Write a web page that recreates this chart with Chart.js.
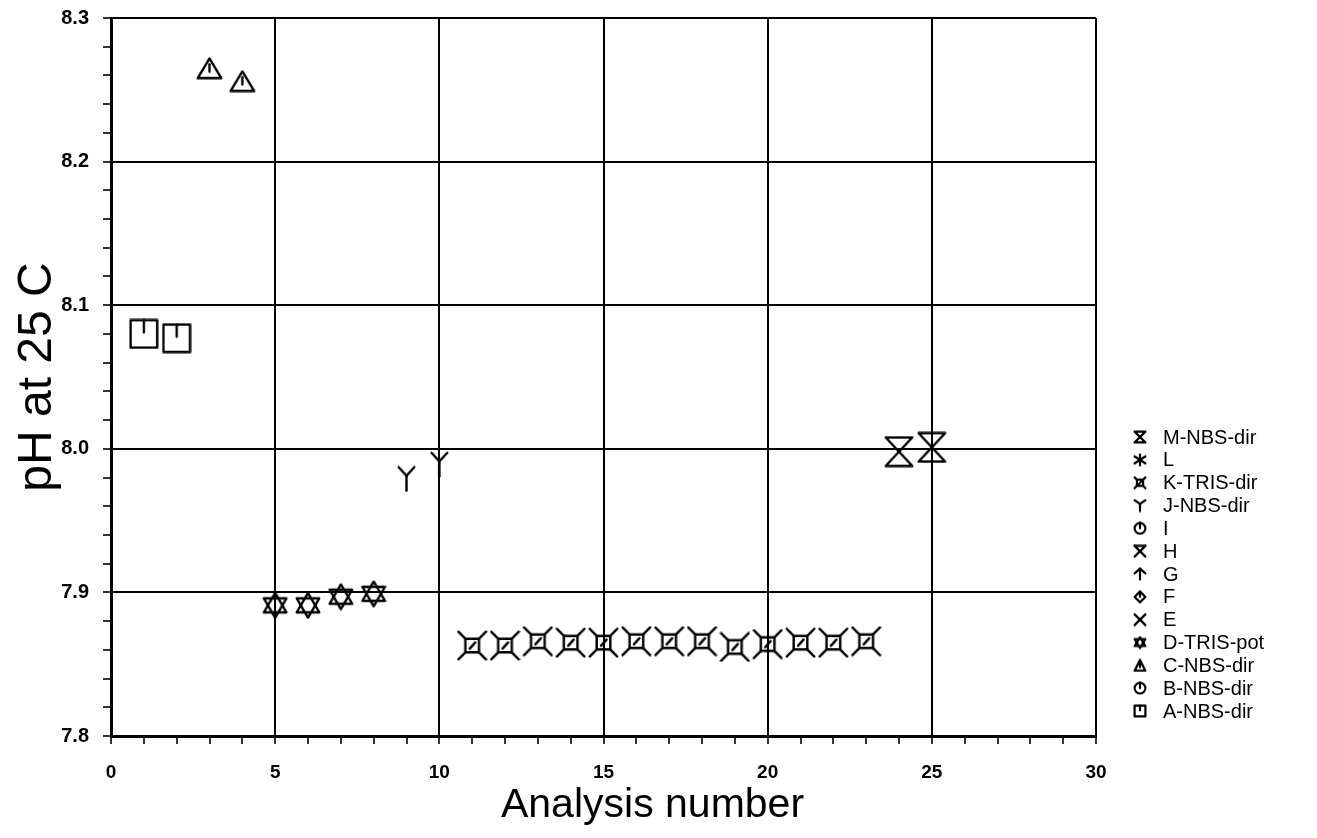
<!DOCTYPE html>
<html><head><meta charset="utf-8">
<script src="https://cdn.jsdelivr.net/npm/chart.js@4.4.1/dist/chart.umd.min.js"></script>
<style>html,body{margin:0;padding:0;background:#fff;}#wrap{width:1317px;height:838px;position:relative;}</style>
</head><body><div id="wrap"><canvas id="c" width="1317" height="838"></canvas></div>
<script>
// ---- data ----
const seriesLabels = ['A-NBS-dir','B-NBS-dir','C-NBS-dir','D-TRIS-pot','E','F','G','H','I','J-NBS-dir','K-TRIS-dir','L','M-NBS-dir'];
const analysisA = [1, 2];
const phA = [8.080, 8.077];
const analysisB = [];
const phB = [];
const analysisC = [3, 4];
const phC = [8.265, 8.256];
const analysisD = [5, 6, 7, 8];
const phD = [7.891, 7.891, 7.897, 7.899];
const analysisE = [], phE = [];
const analysisF = [], phF = [];
const analysisG = [], phG = [];
const analysisH = [], phH = [];
const analysisI = [], phI = [];
const analysisJ = [9, 10];
const phJ = [7.979, 7.989];
const analysisK = [11, 12, 13, 14, 15, 16, 17, 18, 19, 20, 21, 22, 23];
const phK = [7.863, 7.863, 7.866, 7.865, 7.865, 7.866, 7.866, 7.866, 7.862, 7.864, 7.865, 7.865, 7.866];
const analysisL = [], phL = [];
const analysisM = [24, 25];
const phM = [7.998, 8.001];
const xTickLabels = ['0','5','10','15','20','25','30'];
const yTickLabels = ['7.8','7.9','8.0','8.1','8.2','8.3'];
const xTitle = 'Analysis number';
const yTitle = 'pH at 25 C';

// ---- marker glyphs ----
function mk(w, h, lw, draw){
  const c = document.createElement('canvas'); c.width = w; c.height = h;
  const g = c.getContext('2d'); g.strokeStyle = '#000'; g.fillStyle = '#000';
  g.lineWidth = lw; g.lineCap = 'round'; g.lineJoin = 'round';
  const p = lw/2 + 0.5;
  draw(g, w, h, p); return c;
}
function ln(g, pts){ g.beginPath(); g.moveTo(pts[0][0], pts[0][1]); for (let i=1;i<pts.length;i++) g.lineTo(pts[i][0], pts[i][1]); g.stroke(); }
function poly(g, pts){ g.beginPath(); g.moveTo(pts[0][0], pts[0][1]); for (let i=1;i<pts.length;i++) g.lineTo(pts[i][0], pts[i][1]); g.closePath(); g.stroke(); }
const shapes = {
  squareTick:(g,w,h,p)=>{ g.strokeRect(p,p,w-2*p,h-2*p); ln(g,[[w/2,p],[w/2,h*0.45]]); },
  circleTick:(g,w,h,p)=>{ g.beginPath(); g.arc(w/2,h/2,Math.min(w,h)/2-p,0,Math.PI*2); g.stroke(); ln(g,[[w/2,p],[w/2,h/2]]); },
  triTick:(g,w,h,p)=>{ poly(g,[[w/2,p],[w-p,h-p],[p,h-p]]); ln(g,[[w/2,h*0.32],[w/2,h*0.64]]); },
  star:(g,w,h,p)=>{ poly(g,[[w/2,p],[w-p,h*0.75],[p,h*0.75]]); poly(g,[[w/2,h-p],[w-p,h*0.25],[p,h*0.25]]); },
  cross:(g,w,h,p)=>{ ln(g,[[p,p],[w-p,h-p]]); ln(g,[[w-p,p],[p,h-p]]); },
  diamondTick:(g,w,h,p)=>{ poly(g,[[w/2,p],[w-p,h/2],[w/2,h-p],[p,h/2]]); ln(g,[[w/2,p],[w/2,h/2]]); },
  arrowUp:(g,w,h,p)=>{ ln(g,[[p,h*0.45],[w/2,p],[w-p,h*0.45]]); ln(g,[[w/2,p],[w/2,h-p]]); },
  xTop:(g,w,h,p)=>{ ln(g,[[p,p],[w-p,p]]); ln(g,[[p,p],[w-p,h-p]]); ln(g,[[w-p,p],[p,h-p]]); },
  yShape:(g,w,h,p)=>{ ln(g,[[p,p],[w/2,h*0.38],[w-p,p]]); ln(g,[[w/2,h*0.38],[w/2,h-p]]); },
  kShape:(g,w,h,p)=>{ const a=w*0.28,b=w*0.72,c=h*0.28,d=h*0.72;
    g.strokeRect(a,c,b-a,d-c);
    ln(g,[[a,c],[p,p]]); ln(g,[[b,c],[w-p,p]]); ln(g,[[a,d],[p,h-p]]); ln(g,[[b,d],[w-p,h-p]]);
    ln(g,[[w*0.42,h*0.6],[w*0.6,h*0.4]]); },
  asterisk:(g,w,h,p)=>{ ln(g,[[w/2,p],[w/2,h-p]]); ln(g,[[p,h*0.25],[w-p,h*0.75]]); ln(g,[[w-p,h*0.25],[p,h*0.75]]); },
  hourglass:(g,w,h,p)=>{ poly(g,[[p,p],[w-p,p],[w/2,h/2],[w-p,h-p],[p,h-p],[w/2,h/2]]); }
};
const glyphOf = ['squareTick','circleTick','triTick','star','cross','diamondTick','arrowUp','xTop','circleTick','yShape','kShape','asterisk','hourglass'];
const plotSize = {squareTick:[30,31], triTick:[27,23], star:[26,28], yShape:[19,27], kShape:[31,31], hourglass:[30,32]};
const plotIcons = glyphOf.map(s => { const sz = plotSize[s] || [20,20]; return mk(sz[0], sz[1], 2.4, shapes[s]); });
const legendIcons = glyphOf.map(s => mk(14, 14, 2.2, shapes[s]));

const xs = [analysisA,analysisB,analysisC,analysisD,analysisE,analysisF,analysisG,analysisH,analysisI,analysisJ,analysisK,analysisL,analysisM];
const ys = [phA,phB,phC,phD,phE,phF,phG,phH,phI,phJ,phK,phL,phM];
const datasets = seriesLabels.map((lab, i) => ({
  label: lab,
  data: xs[i].map((x, k) => ({x: x, y: ys[i][k]})),
  pointStyle: plotIcons[i],
  pointRadius: 3,
  showLine: false
}));

const FONT = "'Liberation Sans', Arial, Helvetica, sans-serif";
const isMajorY = v => Math.round(v*100) % 10 === 0;
const isMajorX = v => Math.round(v) % 5 === 0;

const legendPlugin = {
  id: 'sideLegend',
  afterDraw(chart){
    const ctx = chart.ctx, area = chart.chartArea;
    const n = seriesLabels.length, step = 22.83;
    ctx.save();
    ctx.font = "20px " + FONT; ctx.fillStyle = '#000'; ctx.textBaseline = 'middle'; ctx.textAlign = 'left';
    for (let r = 0; r < n; r++) {
      const i = n - 1 - r;
      const y = area.bottom - 25 - (n - 1 - r) * step;
      const ic = legendIcons[i];
      ctx.drawImage(ic, area.right + 44 - ic.width/2, y - ic.height/2);
      ctx.fillText(seriesLabels[i], area.right + 67, y + 1);
    }
    // x-axis title (sits right of the axis centre in the reference)
    ctx.font = "41px " + FONT; ctx.textAlign = 'center'; ctx.textBaseline = 'middle';
    ctx.fillText(xTitle, (area.left + area.right) / 2 + 49, 806);
    ctx.restore();
  }
};

new Chart(document.getElementById('c'), {
  type: 'scatter',
  data: { datasets },
  options: {
    responsive: false, animation: false, events: [],
    layout: { padding: { top: 18, right: 221, bottom: 0, left: 0 } },
    plugins: { legend: { display: false }, tooltip: { enabled: false } },
    scales: {
      x: {
        type: 'linear', min: 0, max: 30,
        afterFit: s => { s.height = 102; },
        afterBuildTicks: s => { const t = []; for (let v = 0; v <= 30; v++) t.push({value: v}); s.ticks = t; },
        ticks: { autoSkip: false, maxRotation: 0, padding: 17, color: '#000',
          font: { family: FONT, size: 19, weight: 'bold' },
          callback: v => (isMajorX(v) && xTickLabels.includes(String(v))) ? String(v) : '' },
        grid: { color: c => (c.tick && isMajorX(c.tick.value)) ? '#000' : 'rgba(0,0,0,0)', lineWidth: 2,
          tickColor: '#000', tickWidth: 1.6, tickLength: 8, drawTicks: true },
        border: { display: true, color: '#000', width: 3 },
        title: { display: false }
      },
      y: {
        type: 'linear', min: 7.8, max: 8.3,
        afterFit: s => { s.width = 111; s.paddingTop = 0; s.paddingBottom = 0; },
        afterBuildTicks: s => { const t = []; for (let k = 0; k <= 25; k++) t.push({value: Math.round((7.8 + k*0.02)*100)/100}); s.ticks = t; },
        ticks: { autoSkip: false, padding: 14, color: '#000',
          font: { family: FONT, size: 20, weight: 'bold' },
          callback: v => { const s = Number(v).toFixed(1); return (isMajorY(v) && yTickLabels.includes(s)) ? s : ''; } },
        grid: { color: c => (c.tick && isMajorY(c.tick.value)) ? '#000' : 'rgba(0,0,0,0)', lineWidth: 2,
          tickColor: '#000', tickWidth: 1.6, tickLength: 8, drawTicks: true },
        border: { display: true, color: '#000', width: 3 },
        title: { display: true, text: yTitle, color: '#000', font: { family: FONT, size: 48 }, padding: { top: 9, bottom: 0 } }
      }
    }
  },
  plugins: [legendPlugin]
});
</script></body></html>
